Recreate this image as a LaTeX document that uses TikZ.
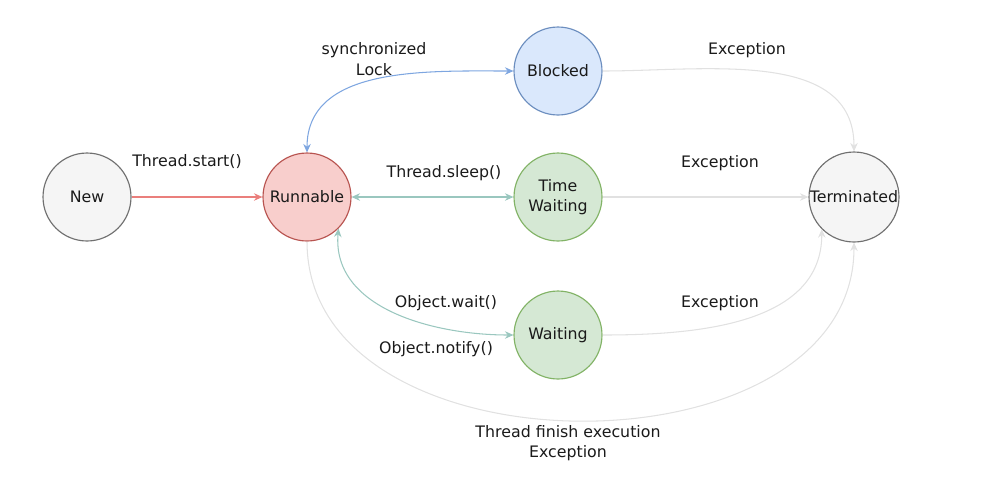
\documentclass[tikz,border=0pt]{standalone}
\usepackage{fontspec}
\setmainfont{DejaVu Sans}
\usetikzlibrary{arrows.meta}
\definecolor{greyline}{HTML}{707070}
\definecolor{greyfill}{HTML}{F5F5F5}
\definecolor{redline}{HTML}{B85450}
\definecolor{redfill}{HTML}{F8CECC}
\definecolor{blueline}{HTML}{6C8EBF}
\definecolor{bluefill}{HTML}{DAE8FC}
\definecolor{greenline}{HTML}{82B366}
\definecolor{greenfill}{HTML}{D5E8D4}
\definecolor{startarrow}{HTML}{EA7F7C}
\definecolor{lockarrow}{HTML}{7EA6E0}
\definecolor{waitarrow}{HTML}{9AC7BF}
\definecolor{exitarrow}{HTML}{E1E1E1}
\definecolor{ink}{HTML}{1A1A1A}
\tikzset{
  >={Stealth[length=1.7mm,width=1.5mm]},
  state/.style={circle,draw=#1line,fill=#1fill,line width=0.65pt,inner sep=0pt,
    minimum size=1.76cm,align=center,font=\fontsize{9}{11.5}\selectfont,text=ink},
  state/.default=grey,
  flow/.style={->,line width=0.6pt,draw=#1},
  flow/.default=exitarrow,
  twoway/.style={<->,line width=0.6pt,draw=#1},
  tag/.style={font=\fontsize{9}{11.5}\selectfont,text=ink,align=center},
}
\begin{document}
\begin{tikzpicture}[x=0.02cm,y=-0.02cm]
  \useasboundingbox (0,0) rectangle (990,481);
  % states
  \node[state=grey] (new) at (87,197) {New};
  \node[state=red] (run) at (307,197) {Runnable};
  \node[state=blue] (blk) at (558,71) {Blocked};
  \node[state=green] (tw) at (558,197) {Time\\Waiting};
  \node[state=green] (wt) at (558,335) {Waiting};
  \node[state=grey,minimum size=1.8cm] (term) at (854,197) {Terminated};
  % transitions
  \draw[flow=startarrow] (new) -- (run);
  \draw[twoway=lockarrow] (run.north) to[out=90,in=180] (blk.west);
  \draw[twoway=waitarrow] (run) -- (tw);
  \draw[twoway=waitarrow] (run.-45) to[out=-95,in=180] (wt.west);
  \draw[flow] (blk.east) to[out=0,in=90] (term.north);
  \draw[flow] (tw) -- (term);
  \draw[flow] (wt.east) to[out=0,in=-90] (term.-135);
  \draw[flow] (run.south) .. controls (307,480) and (854,480) .. (term.south);
  % labels
  \node[tag] (lstart) at (187,162) {Thread.start()};
  \node[tag] (llock) at (374,59) {synchronized\\Lock};
  \node[tag] (lsleep) at (444,173) {Thread.sleep()};
  \node[tag] (lwait) at (446,303) {Object.wait()};
  \node[tag] (lnotify) at (436,349) {Object.notify()};
  \node[tag] (lexc1) at (747,50) {Exception};
  \node[tag] (lexc2) at (720,163) {Exception};
  \node[tag] (lexc3) at (720,303) {Exception};
  \node[tag] (lfinish) at (568,443) {Thread finish execution\\Exception};
\end{tikzpicture}
\end{document}
